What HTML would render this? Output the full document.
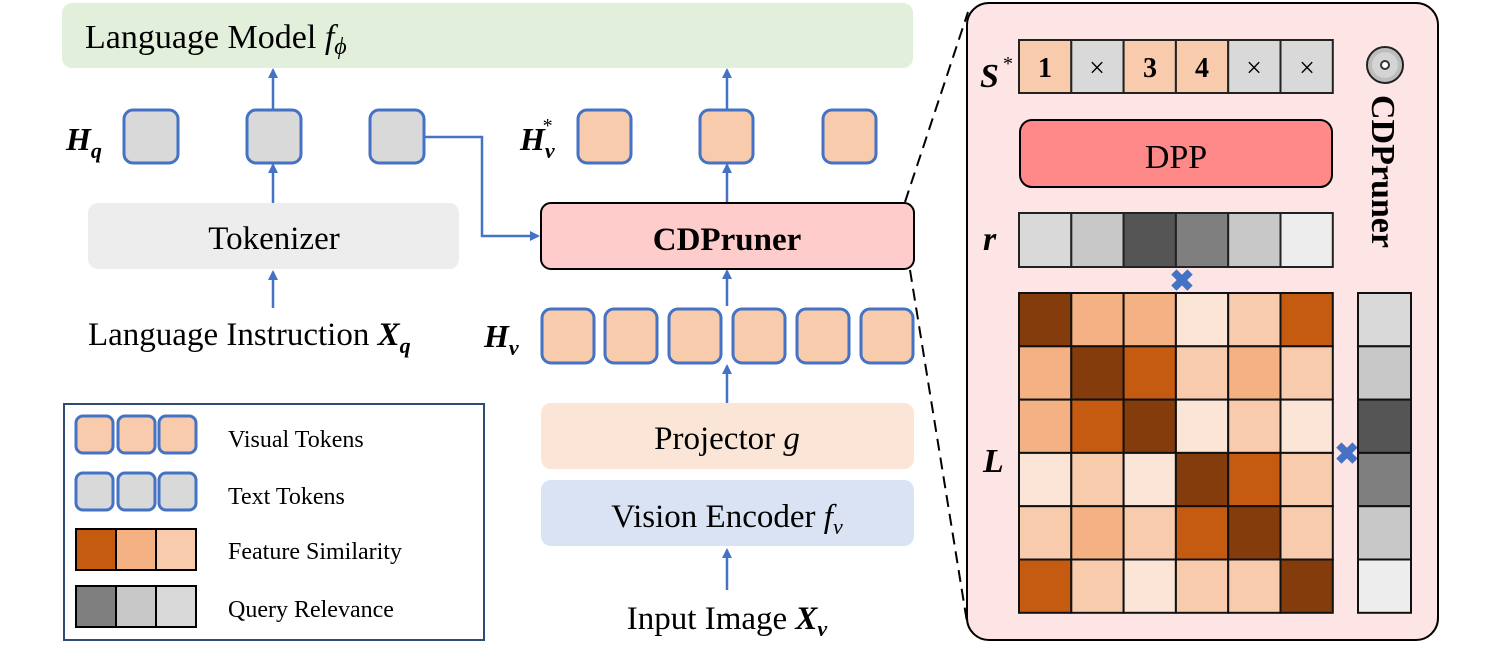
<!DOCTYPE html>
<html><head><meta charset="utf-8"><style>
html,body{margin:0;padding:0;background:#fff;}
svg{display:block;}
text{font-family:"Liberation Serif",serif;fill:#000;}
.b{font-weight:bold;font-style:italic;}
.i{font-style:italic;}
</style></head><body>
<svg width="1494" height="645" viewBox="0 0 1494 645" xmlns="http://www.w3.org/2000/svg">
<defs>
<marker id="ar" markerWidth="10" markerHeight="10" refX="8" refY="5" orient="auto" markerUnits="userSpaceOnUse">
<path d="M0,0 L10,5 L0,10 Z" fill="#4472c4"/>
</marker>
</defs>
<rect x="62" y="3" width="851" height="65" rx="10" fill="#e2efda"/>
<text x="85" y="48" font-size="34">Language Model <tspan class="i">f</tspan><tspan class="i" font-size="24" dy="6">ϕ</tspan></text>

<text x="66" y="150" font-size="32" class="b">H<tspan font-size="22" dy="8">q</tspan></text>
<g fill="#d9d9d9" stroke="#4472c4" stroke-width="3">
<rect x="124" y="110" width="54" height="53" rx="9"/>
<rect x="247" y="110" width="54" height="53" rx="9"/>
<rect x="370" y="110" width="54" height="53" rx="9"/>
</g>
<text x="520" y="150" font-size="32" class="b">H<tspan font-size="22" dy="8">v</tspan><tspan font-size="20" dx="-12" dy="-26" font-style="normal" font-weight="normal">*</tspan></text>
<g fill="#f8cbad" stroke="#4472c4" stroke-width="3">
<rect x="578" y="110" width="53" height="53" rx="9"/>
<rect x="700" y="110" width="53" height="53" rx="9"/>
<rect x="823" y="110" width="53" height="53" rx="9"/>
</g>

<g stroke="#4472c4" stroke-width="2.5" fill="none" marker-end="url(#ar)">
<line x1="273" y1="110" x2="273" y2="70"/>
<line x1="273" y1="203" x2="273" y2="165"/>
<line x1="273" y1="308" x2="273" y2="272"/>
<line x1="727" y1="110" x2="727" y2="70"/>
<line x1="727" y1="203" x2="727" y2="165"/>
<line x1="727" y1="306" x2="727" y2="271"/>
<line x1="727" y1="403" x2="727" y2="366"/>
<line x1="727" y1="590" x2="727" y2="550"/>
<polyline points="424,137 482,137 482,236 538,236"/>
<line x1="1176" y1="120" x2="1176" y2="95"/>
<line x1="1176" y1="213" x2="1176" y2="189"/>
</g>

<rect x="88" y="203" width="371" height="66" rx="10" fill="#ededed"/>
<text x="274" y="249" font-size="33" text-anchor="middle">Tokenizer</text>
<text x="88" y="345" font-size="33">Language Instruction <tspan class="b">X</tspan><tspan class="b" font-size="22" dy="8">q</tspan></text>

<rect x="541" y="203" width="373" height="66" rx="10" fill="#ffcccc" stroke="#000" stroke-width="2"/>
<text x="727" y="250" font-size="33" font-weight="bold" text-anchor="middle">CDPruner</text>

<text x="484" y="347" font-size="32" class="b">H<tspan font-size="22" dy="8">v</tspan></text>
<g fill="#f8cbad" stroke="#4472c4" stroke-width="3">
<rect x="542" y="309" width="52" height="54" rx="9"/>
<rect x="605" y="309" width="52" height="54" rx="9"/>
<rect x="669" y="309" width="52" height="54" rx="9"/>
<rect x="733" y="309" width="52" height="54" rx="9"/>
<rect x="797" y="309" width="52" height="54" rx="9"/>
<rect x="861" y="309" width="52" height="54" rx="9"/>
</g>

<rect x="541" y="403" width="373" height="66" rx="10" fill="#fbe5d6"/>
<text x="727" y="449" font-size="33" text-anchor="middle">Projector <tspan class="i">g</tspan></text>
<rect x="541" y="480" width="373" height="66" rx="10" fill="#dae3f3"/>
<text x="727" y="527" font-size="33" text-anchor="middle">Vision Encoder <tspan class="i">f</tspan><tspan class="i" font-size="22" dy="7">v</tspan></text>
<text x="727" y="629" font-size="33" text-anchor="middle">Input Image <tspan class="b">X</tspan><tspan class="b" font-size="22" dy="7">v</tspan></text>

<rect x="64" y="404" width="420" height="236" fill="#fff" stroke="#2f4a75" stroke-width="2"/>
<g stroke="#4472c4" stroke-width="3">
<rect x="76" y="416" width="37" height="37" rx="7" fill="#f8cbad"/>
<rect x="118" y="416" width="37" height="37" rx="7" fill="#f8cbad"/>
<rect x="159" y="416" width="37" height="37" rx="7" fill="#f8cbad"/>
<rect x="76" y="473" width="37" height="37" rx="7" fill="#d9d9d9"/>
<rect x="118" y="473" width="37" height="37" rx="7" fill="#d9d9d9"/>
<rect x="159" y="473" width="37" height="37" rx="7" fill="#d9d9d9"/>
</g>
<g stroke="#000" stroke-width="2">
<rect x="76" y="529" width="40" height="41" fill="#c55a11"/>
<rect x="116" y="529" width="40" height="41" fill="#f4b183"/>
<rect x="156" y="529" width="40" height="41" fill="#f8cbad"/>
<rect x="76" y="586" width="40" height="41" fill="#7f7f7f"/>
<rect x="116" y="586" width="40" height="41" fill="#c8c8c8"/>
<rect x="156" y="586" width="40" height="41" fill="#d9d9d9"/>
</g>
<text x="228" y="447" font-size="24">Visual Tokens</text>
<text x="228" y="504" font-size="24">Text Tokens</text>
<text x="228" y="559" font-size="24">Feature Similarity</text>
<text x="228" y="617" font-size="24">Query Relevance</text>

<g stroke="#000" stroke-width="2" stroke-dasharray="12,7">
<line x1="905" y1="202" x2="968" y2="12"/>
<line x1="910" y1="270" x2="967" y2="622"/>
</g>

<rect x="967" y="3" width="471" height="637" rx="22" fill="#fee5e5" stroke="#000" stroke-width="2"/>

<text x="980" y="87" font-size="34" class="b">S</text><text x="1003" y="70" font-size="20">*</text>
<g stroke="#222" stroke-width="2">
<rect x="1019" y="40" width="52.3" height="53" fill="#f8cbad"/>
<rect x="1071.3" y="40" width="52.3" height="53" fill="#d9d9d9"/>
<rect x="1123.6" y="40" width="52.3" height="53" fill="#f8cbad"/>
<rect x="1175.9" y="40" width="52.3" height="53" fill="#f8cbad"/>
<rect x="1228.2" y="40" width="52.3" height="53" fill="#d9d9d9"/>
<rect x="1280.5" y="40" width="52.3" height="53" fill="#d9d9d9"/>
</g>
<g font-size="28" text-anchor="middle">
<text x="1045" y="77" font-weight="bold">1</text>
<text x="1097" y="77">×</text>
<text x="1150" y="77" font-weight="bold">3</text>
<text x="1202" y="77" font-weight="bold">4</text>
<text x="1254" y="77">×</text>
<text x="1307" y="77">×</text>
</g>

<rect x="1020" y="120" width="312" height="67" rx="12" fill="#ff8989" stroke="#000" stroke-width="2"/>
<text x="1176" y="168" font-size="34" text-anchor="middle">DPP</text>

<text x="983" y="250" font-size="34" class="b">r</text>
<g stroke="#222" stroke-width="2">
<rect x="1019" y="213" width="52.3" height="54" fill="#d9d9d9"/>
<rect x="1071.3" y="213" width="52.3" height="54" fill="#c8c8c8"/>
<rect x="1123.6" y="213" width="52.3" height="54" fill="#555555"/>
<rect x="1175.9" y="213" width="52.3" height="54" fill="#7f7f7f"/>
<rect x="1228.2" y="213" width="52.3" height="54" fill="#c8c8c8"/>
<rect x="1280.5" y="213" width="52.3" height="54" fill="#ededed"/>
</g>

<text x="1182" y="291" font-size="30" font-weight="bold" text-anchor="middle" style="fill:#4472c4">✖</text>
<text x="1347" y="464" font-size="30" font-weight="bold" text-anchor="middle" style="fill:#4472c4">✖</text>

<text x="983" y="472" font-size="34" class="b">L</text>
<g stroke="#111" stroke-width="2">
<rect x="1019" y="293" width="52.3" height="53.3" fill="#843c0c"/>
<rect x="1071.3" y="293" width="52.3" height="53.3" fill="#f4b183"/>
<rect x="1123.6" y="293" width="52.3" height="53.3" fill="#f4b183"/>
<rect x="1175.9" y="293" width="52.3" height="53.3" fill="#fbe5d6"/>
<rect x="1228.2" y="293" width="52.3" height="53.3" fill="#f8cbad"/>
<rect x="1280.5" y="293" width="52.3" height="53.3" fill="#c55a11"/>
<rect x="1019" y="346.3" width="52.3" height="53.3" fill="#f4b183"/>
<rect x="1071.3" y="346.3" width="52.3" height="53.3" fill="#843c0c"/>
<rect x="1123.6" y="346.3" width="52.3" height="53.3" fill="#c55a11"/>
<rect x="1175.9" y="346.3" width="52.3" height="53.3" fill="#f8cbad"/>
<rect x="1228.2" y="346.3" width="52.3" height="53.3" fill="#f4b183"/>
<rect x="1280.5" y="346.3" width="52.3" height="53.3" fill="#f8cbad"/>
<rect x="1019" y="399.6" width="52.3" height="53.3" fill="#f4b183"/>
<rect x="1071.3" y="399.6" width="52.3" height="53.3" fill="#c55a11"/>
<rect x="1123.6" y="399.6" width="52.3" height="53.3" fill="#843c0c"/>
<rect x="1175.9" y="399.6" width="52.3" height="53.3" fill="#fbe5d6"/>
<rect x="1228.2" y="399.6" width="52.3" height="53.3" fill="#f8cbad"/>
<rect x="1280.5" y="399.6" width="52.3" height="53.3" fill="#fbe5d6"/>
<rect x="1019" y="452.9" width="52.3" height="53.3" fill="#fbe5d6"/>
<rect x="1071.3" y="452.9" width="52.3" height="53.3" fill="#f8cbad"/>
<rect x="1123.6" y="452.9" width="52.3" height="53.3" fill="#fbe5d6"/>
<rect x="1175.9" y="452.9" width="52.3" height="53.3" fill="#843c0c"/>
<rect x="1228.2" y="452.9" width="52.3" height="53.3" fill="#c55a11"/>
<rect x="1280.5" y="452.9" width="52.3" height="53.3" fill="#f8cbad"/>
<rect x="1019" y="506.2" width="52.3" height="53.3" fill="#f8cbad"/>
<rect x="1071.3" y="506.2" width="52.3" height="53.3" fill="#f4b183"/>
<rect x="1123.6" y="506.2" width="52.3" height="53.3" fill="#f8cbad"/>
<rect x="1175.9" y="506.2" width="52.3" height="53.3" fill="#c55a11"/>
<rect x="1228.2" y="506.2" width="52.3" height="53.3" fill="#843c0c"/>
<rect x="1280.5" y="506.2" width="52.3" height="53.3" fill="#f8cbad"/>
<rect x="1019" y="559.5" width="52.3" height="53.3" fill="#c55a11"/>
<rect x="1071.3" y="559.5" width="52.3" height="53.3" fill="#f8cbad"/>
<rect x="1123.6" y="559.5" width="52.3" height="53.3" fill="#fbe5d6"/>
<rect x="1175.9" y="559.5" width="52.3" height="53.3" fill="#f8cbad"/>
<rect x="1228.2" y="559.5" width="52.3" height="53.3" fill="#f8cbad"/>
<rect x="1280.5" y="559.5" width="52.3" height="53.3" fill="#843c0c"/>
<rect x="1358" y="293" width="53" height="53.3" fill="#d9d9d9"/>
<rect x="1358" y="346.3" width="53" height="53.3" fill="#c8c8c8"/>
<rect x="1358" y="399.6" width="53" height="53.3" fill="#555555"/>
<rect x="1358" y="452.9" width="53" height="53.3" fill="#7f7f7f"/>
<rect x="1358" y="506.2" width="53" height="53.3" fill="#c8c8c8"/>
<rect x="1358" y="559.5" width="53" height="53.3" fill="#ededed"/>
</g>

<circle cx="1385" cy="65" r="18" fill="#bdbdbd" stroke="#222" stroke-width="2"/>
<circle cx="1385" cy="65" r="13" fill="#d4d4d4"/>
<circle cx="1385" cy="65" r="4" fill="#fff" stroke="#333" stroke-width="2"/>
<text transform="translate(1372,95) rotate(90)" font-size="34" font-weight="bold">CDPruner</text>
</svg>
</body></html>
